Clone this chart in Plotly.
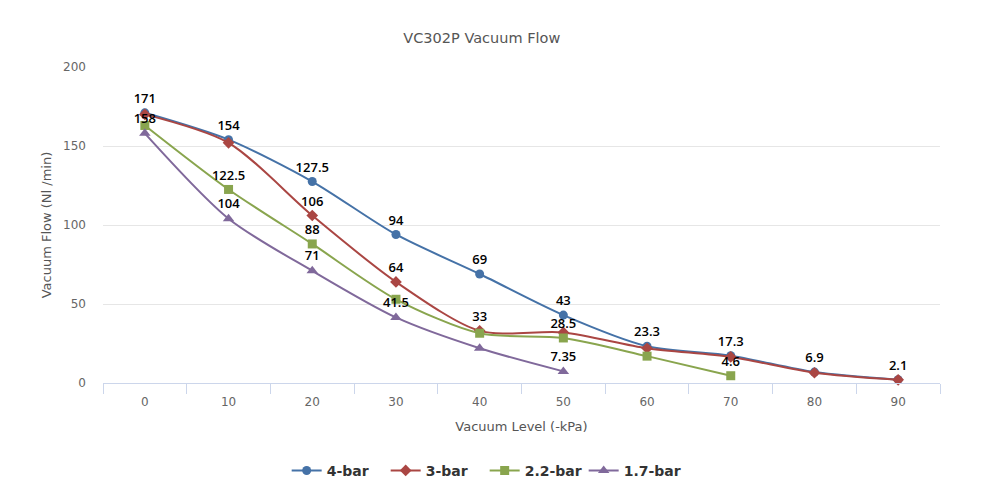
import plotly.graph_objects as go

categories = ["0", "10", "20", "30", "40", "50", "60", "70", "80", "90"]
bar4 = [171, 154, 127.5, 94, 69, 43, 23.3, 17.3, 6.9, 2.1]
bar3 = [170, 152, 106, 64, 33, 32, 22, 16.5, 6.5, 2]
bar22 = [163, 122.5, 88, 53, 31.5, 28.5, 17, 4.6]
bar17 = [158, 104, 71, 41.5, 22, 7.35]

# which data labels are visible (the rest overlap and are hidden)
lab4 = [True] * 10
lab3 = [False, False, True, True, True, False, False, False, False, False]
lab22 = [False, True, True, False, False, True, False, True]
lab17 = [True, True, True, True, False, True]

series = [
    ("4-bar", bar4, lab4, "#4572A7", "circle", 9),
    ("3-bar", bar3, lab3, "#AA4643", "diamond", 9),
    ("2.2-bar", bar22, lab22, "#89A54E", "square", 9),
    ("1.7-bar", bar17, lab17, "#80699B", "triangle-up", 10),
]

def fmt(v):
    return ("%g" % v)

fig = go.Figure()
for name, vals, labs, color, sym, size in series:
    fig.add_trace(go.Scatter(
        x=categories[:len(vals)], y=vals, name=name,
        mode="lines+markers+text",
        line=dict(color=color, width=2, shape="spline", smoothing=0.8),
        marker=dict(color=color, symbol=sym, size=size),
        text=[fmt(v) if s else "" for v, s in zip(vals, labs)],
        textposition="top center",
        textfont=dict(family="Open Sans", size=13, color="#000000", weight=600),
        cliponaxis=False,
    ))

fig.update_layout(
    width=985, height=501,
    margin=dict(l=95, r=53, t=59, b=126),
    paper_bgcolor="white", plot_bgcolor="white",
    title=dict(text="VC302P Vacuum Flow", x=0.481, xanchor="center", y=0.94, yanchor="middle",
               font=dict(family="DejaVu Sans", size=14.5, color="#555555")),
    font=dict(family="DejaVu Sans", color="#666666", size=12),
    xaxis=dict(type="category", tickson="boundaries", ticks="outside", ticklen=10,
               tickcolor="#ccd6eb", showline=True, linecolor="#ccd6eb", linewidth=1,
               showgrid=False, zeroline=False, range=[-0.5, 9.5], automargin=False,
               ticklabelstandoff=8,
               title=dict(text="Vacuum Level (-kPa)", font=dict(size=13, color="#555555"), standoff=13),
               tickfont=dict(size=12, color="#666666")),
    yaxis=dict(range=[0, 200], dtick=50, showgrid=True, gridcolor="#e6e6e6", zeroline=False,
               showline=False, ticks="", tickfont=dict(size=12, color="#666666"),
               automargin=False, ticklabelstandoff=16,
               title=dict(text="Vacuum Flow (Nl /min)", font=dict(size=13, color="#555555"), standoff=8)),
    legend=dict(orientation="h", x=0.456, xanchor="center", y=-0.278, yanchor="middle",
                font=dict(family="DejaVu Sans", size=14, color="#333333", weight="bold"),
                itemwidth=30, traceorder="normal", entrywidth=54, entrywidthmode="pixels"),
    showlegend=True,
)

fig.write_html("out.html")
